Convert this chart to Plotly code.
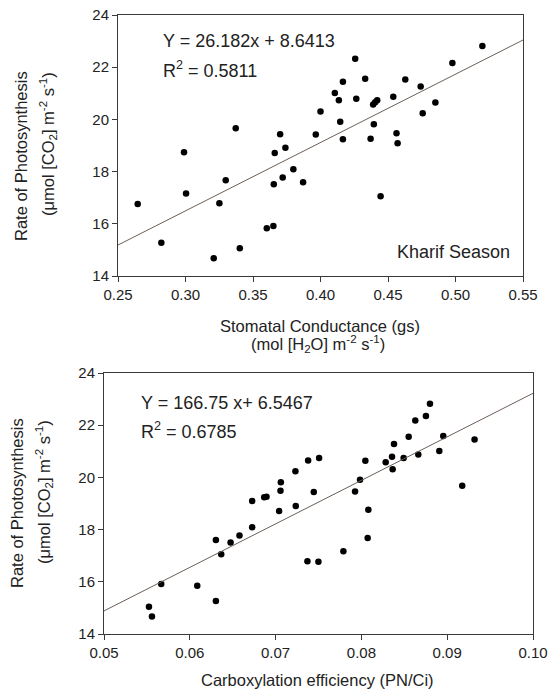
import plotly.graph_objects as go

# ---------------- Data ----------------
gs_kharif = [0.2646, 0.2821, 0.2989, 0.3004, 0.3209, 0.3251, 0.3298, 0.3372, 0.3402,
             0.3602, 0.3651, 0.3654, 0.3661, 0.3701, 0.3720, 0.3740, 0.3799, 0.3871,
             0.3965, 0.4000, 0.4106, 0.4136, 0.4146, 0.4166, 0.4166, 0.4257, 0.4265,
             0.4331, 0.4371, 0.4395, 0.4390, 0.4405, 0.4420, 0.4445, 0.4539, 0.4563,
             0.4571, 0.4628, 0.4742, 0.4757, 0.4851, 0.4977, 0.5199]
pn_gs = [16.76, 15.27, 18.74, 17.16, 14.68, 16.79, 17.67, 19.66, 15.06,
         15.83, 15.92, 17.52, 18.71, 19.43, 17.77, 18.91, 18.09, 17.59,
         19.42, 20.30, 21.01, 20.73, 19.91, 21.44, 19.24, 22.32, 20.79,
         21.56, 19.26, 19.81, 20.57, 20.66, 20.73, 17.06, 20.87, 19.47,
         19.09, 21.53, 21.26, 20.24, 20.65, 22.16, 22.81]

ce = [0.05524, 0.05559, 0.05667, 0.06087, 0.06304, 0.06304, 0.06366, 0.06475, 0.06579,
      0.06727, 0.06727, 0.06867, 0.06894, 0.07041, 0.07057, 0.07061, 0.07231, 0.07235,
      0.07379, 0.07371, 0.07445, 0.07507, 0.07499, 0.07790, 0.07926, 0.07984, 0.08046,
      0.08081, 0.08073, 0.08283, 0.08357, 0.08364, 0.08380, 0.08492, 0.08551, 0.08628,
      0.08663, 0.08752, 0.08799, 0.08908, 0.08954, 0.09175, 0.09319]
pn_ce = [15.04, 14.67, 15.92, 15.85, 15.26, 17.60, 17.06, 17.51, 17.77,
         18.09, 19.10, 19.24, 19.26, 18.71, 19.49, 19.81, 20.24, 18.90,
         20.65, 16.79, 19.44, 20.74, 16.77, 17.17, 19.46, 19.91, 20.64,
         18.76, 17.68, 20.58, 20.79, 20.31, 21.28, 20.74, 21.56, 22.18,
         20.88, 22.35, 22.82, 21.01, 21.59, 19.68, 21.45]

fit1_slope, fit1_intercept = 26.182, 8.6413
fit2_slope, fit2_intercept = 166.75, 6.5467

x1_ticks = [0.25, 0.30, 0.35, 0.40, 0.45, 0.50, 0.55]
x1_ticklabels = ["0.25", "0.30", "0.35", "0.40", "0.45", "0.50", "0.55"]
x2_ticks = [0.05, 0.06, 0.07, 0.08, 0.09, 0.10]
x2_ticklabels = ["0.05", "0.06", "0.07", "0.08", "0.09", "0.10"]
y_ticks = [14, 16, 18, 20, 22, 24]
y_ticklabels = ["14", "16", "18", "20", "22", "24"]

x1_range = [x1_ticks[0], x1_ticks[-1]]
x2_range = [x2_ticks[0], x2_ticks[-1]]
y_range = [y_ticks[0], y_ticks[-1]]

# ---------------- Layout helpers ----------------
W, H = 551, 696
def px(x):
    return x / W
def py(y):
    return 1 - y / H

FONT = "Liberation Sans, Arial, Helvetica, sans-serif"
AXIS_COLOR = "#3a3a3a"
LINE_COLOR = "#6e5e56"

fig = go.Figure()

fig.add_trace(go.Scatter(x=gs_kharif, y=pn_gs, mode="markers",
                         marker=dict(color="black", size=6.5),
                         xaxis="x", yaxis="y", showlegend=False))
fig.add_trace(go.Scatter(x=x1_range, y=[fit1_slope * v + fit1_intercept for v in x1_range],
                         mode="lines", line=dict(color=LINE_COLOR, width=1),
                         xaxis="x", yaxis="y", showlegend=False))
fig.add_trace(go.Scatter(x=ce, y=pn_ce, mode="markers",
                         marker=dict(color="black", size=6.5),
                         xaxis="x2", yaxis="y2", showlegend=False))
fig.add_trace(go.Scatter(x=x2_range, y=[fit2_slope * v + fit2_intercept for v in x2_range],
                         mode="lines", line=dict(color=LINE_COLOR, width=1),
                         xaxis="x2", yaxis="y2", showlegend=False))

axis_common = dict(showline=True, linecolor=AXIS_COLOR, linewidth=1, mirror=True,
                   ticks="outside", ticklen=5, tickcolor=AXIS_COLOR, tickwidth=1,
                   showgrid=False, zeroline=False,
                   tickfont=dict(family=FONT, size=15, color="#222222"),
                   automargin=False)

fig.update_layout(
    width=W, height=H,
    margin=dict(l=0, r=0, t=0, b=0),
    paper_bgcolor="white", plot_bgcolor="white",
    xaxis=dict(domain=[px(118), px(523)], range=x1_range, tickmode="array",
               tickvals=x1_ticks, ticktext=x1_ticklabels, anchor="y", **axis_common),
    yaxis=dict(domain=[py(276), py(15)], range=y_range, tickmode="array",
               tickvals=y_ticks, ticktext=y_ticklabels, anchor="x", **axis_common),
    xaxis2=dict(domain=[px(104), px(533)], range=x2_range, tickmode="array",
                tickvals=x2_ticks, ticktext=x2_ticklabels, anchor="y2", **axis_common),
    yaxis2=dict(domain=[py(634), py(373)], range=y_range, tickmode="array",
                tickvals=y_ticks, ticktext=y_ticklabels, anchor="x2", **axis_common),
)

def ann(text, x, y, size, angle=0, xanchor="center", yanchor="middle"):
    fig.add_annotation(text=text, x=px(x), y=py(y), xref="paper", yref="paper",
                       showarrow=False, textangle=angle, xanchor=xanchor, yanchor=yanchor,
                       font=dict(family=FONT, size=size, color="#222222"))

# Top panel texts
ann("Y = 26.182x + 8.6413", 161, 41, 18, xanchor="left")
ann("R<sup>2</sup> = 0.5811", 161, 69, 18, xanchor="left")
ann("Kharif Season", 512, 252, 18, xanchor="right")
ann("Stomatal Conductance (gs)", 320, 326, 16.5)
ann("(mol [H<sub>2</sub>O] m<sup>-2</sup> s<sup>-1</sup>)", 318, 344, 16.5)
ann("Rate of Photosynthesis", 21, 156, 16.5, angle=-90)
ann("(μmol [CO<sub>2</sub>] m<sup>-2</sup> s<sup>-1</sup>)", 48, 144, 16.5, angle=-90)

# Bottom panel texts
ann("Y = 166.75 x+ 6.5467", 139, 403, 18, xanchor="left")
ann("R<sup>2</sup> = 0.6785", 139, 430, 18, xanchor="left")
ann("Carboxylation efficiency (PN/Ci)", 317, 680, 16.5)
ann("Rate of Photosynthesis", 17, 503, 16.5, angle=-90)
ann("(μmol [CO<sub>2</sub>] m<sup>-2</sup> s<sup>-1</sup>)", 44, 492, 16.5, angle=-90)

fig.write_html("out.html",
               config={"displayModeBar": False, "staticPlot": True},
               post_script="document.body.style.margin='0';document.body.style.padding='0';document.body.style.overflow='hidden';")
